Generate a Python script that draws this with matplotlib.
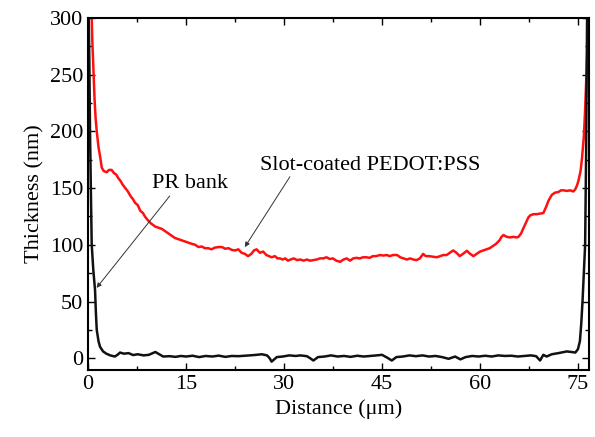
import matplotlib
matplotlib.use("Agg")
import matplotlib.pyplot as plt
from matplotlib.ticker import MultipleLocator

plt.rcParams['font.family'] = ['Liberation Serif', 'DejaVu Serif']

# PR bank profile (black)
bank_x = [0.1, 0.2, 0.3, 0.45, 0.56, 0.8, 1.07, 1.2, 1.33, 1.6, 1.84, 2.3, 2.8,
          3.4, 4.1, 4.5, 4.9, 5.5, 6.2, 6.9, 7.6, 8.5, 9.3, 10.3, 10.9, 11.5,
          12.5, 13.4, 14.2, 15.0, 16.0, 17.0, 18.0, 19.0, 20.0, 21.0, 22.0,
          23.0, 24.0, 25.0, 25.8, 26.6, 27.4, 27.8, 28.1, 28.5, 28.9, 29.8,
          30.8, 31.8, 32.5, 33.5, 34.0, 34.5, 35.2, 36.2, 37.2, 38.2, 39.2,
          40.2, 41.2, 42.2, 43.2, 44.2, 45.0, 45.8, 46.5, 47.2, 48.2, 49.2,
          50.2, 51.2, 52.2, 53.2, 54.2, 55.2, 56.2, 57.0, 57.8, 58.8, 59.8,
          60.8, 61.8, 62.8, 63.8, 64.8, 65.8, 66.8, 67.8, 68.6, 69.2, 69.7,
          70.2, 71.0, 72.0, 73.3, 74.0, 74.6, 75.0, 75.3, 75.5, 75.7, 75.9,
          76.1, 76.25, 76.4]
bank_y = [300, 260, 200, 140, 100, 78, 60, 40, 25, 15, 10, 6, 4,
          2.5, 1.5, 3, 5, 4, 4.5, 2.8, 3.5, 2.5, 3, 5.5, 3.5, 1.5,
          1.8, 1.2, 2, 1.5, 2.2, 1, 2, 1.5, 2.3, 1.2, 2,
          1.8, 2.2, 2.6, 3, 3.5, 2.5, 0, -3, -1, 1, 1.5,
          2.5, 2, 2.5, 1.8, 0, -2, 1, 1.5, 2.5, 1.5, 2,
          1.2, 2.2, 1.5, 2, 2.5, 3, 0.5, -2, 1, 1.5, 2.5,
          1.8, 2.5, 1.5, 2, 1, -0.5, 1.5, -1, 1, 2, 1.5,
          2.2, 1.5, 2.5, 2, 2.2, 1.5, 2, 2.5, 1.8, -2, 3,
          1.5, 3.5, 4.5, 6, 5.5, 5, 8, 15, 30, 50, 75,
          100, 180, 300]

# slot-coated PEDOT:PSS profile (red)
film_x = [0.56, 0.65, 0.8, 1.0, 1.15, 1.33, 1.6, 1.84, 2.1, 2.4, 2.86, 3.2,
          3.6, 4.0, 4.3, 4.6, 5.0, 5.3, 5.7, 6.1, 6.5, 6.9, 7.2, 7.6, 8.0,
          8.4, 8.7, 9.1, 9.6, 10.3, 10.8, 11.3, 11.8, 12.3, 12.8, 13.3, 13.8,
          14.3, 14.8, 15.3, 15.8, 16.4, 16.9, 17.4, 17.9, 18.4, 18.9, 19.4,
          20.0, 20.5, 21.0, 21.5, 22.0, 22.5, 23.0, 23.5, 24.0, 24.5, 25.0,
          25.4, 25.8, 26.3, 26.8, 27.3, 27.7, 28.1, 28.6, 29.0, 29.4, 29.8,
          30.2, 30.6, 31.0, 31.5, 32.0, 32.5, 33.0, 33.5, 34.0, 34.5, 35.0,
          35.5, 36.0, 36.5, 37.0, 37.5, 38.0, 38.6, 39.1, 39.6, 40.1, 40.6,
          41.1, 41.6, 42.1, 42.6, 43.1, 43.6, 44.1, 44.7, 45.2, 45.7, 46.2,
          46.7, 47.3, 47.8, 48.3, 48.8, 49.3, 49.8, 50.3, 50.8, 51.3, 51.7,
          52.2, 52.8, 53.4, 53.9, 54.4, 54.9, 55.4, 55.9, 56.4, 56.9, 57.4,
          58.0, 58.5, 59.0, 59.5, 60.0, 60.5, 61.0, 61.5, 62.0, 62.5, 63.0,
          63.3, 63.6, 64.1, 64.6, 65.1, 65.6, 65.9, 66.3, 66.6, 67.0, 67.4,
          67.7, 68.2, 68.7, 69.2, 69.7, 70.1, 70.5, 71.0, 71.5, 72.0, 72.4,
          72.8, 73.3, 73.8, 74.3, 74.6, 74.9, 75.1, 75.4, 75.6, 75.9, 76.1,
          76.3, 76.45, 76.6]
film_y = [300, 280, 257, 228, 212, 200, 186, 178, 168, 165, 164, 166,
          166, 163, 162, 159, 156, 153, 150, 147, 143, 140, 137, 135, 130,
          128, 125, 122, 119, 116, 115, 114, 112, 110, 108, 106, 105,
          104, 103, 102, 101, 100, 98, 98.5, 97, 97, 96, 97.5,
          98, 98, 96.5, 97, 95.5, 95, 96, 93, 92, 90, 92,
          95, 96, 93, 94, 91, 90, 89, 90, 88, 88, 87,
          88, 86, 87, 88, 86.5, 87, 86, 87, 86, 86.5, 87,
          88, 88, 89, 87.5, 88, 86, 85, 87, 88, 86, 88,
          88.5, 88, 89, 89, 88.5, 90, 90, 91, 90.5, 91, 90,
          91, 91, 89, 88, 87, 88, 87, 86.5, 88, 92, 90,
          90, 89.5, 89, 90, 91, 91, 93, 95, 93, 90, 92,
          94.7, 92, 90, 92, 94, 95, 96, 97, 99, 101, 104,
          107, 108.6, 107, 106.5, 107, 106.5, 107, 110, 114, 119, 124,
          126, 127, 127, 127.5, 128, 133, 139, 144, 146, 146.5, 148,
          148, 147.5, 148, 147, 149, 153, 157, 165, 175, 195, 219,
          250, 275, 298]

fig = plt.figure(figsize=(5.95, 4.37), dpi=100)
ax = fig.add_axes([0.148, 0.153, 0.842, 0.806])

ax.plot(film_x, film_y, color='#ff1010', lw=1.8)
ax.plot(bank_x, bank_y, color='#111111', lw=1.8)

ax.set_xlim(0, 76.7)
ax.set_ylim(-10.5, 300)
ax.xaxis.set_major_locator(MultipleLocator(15))
ax.xaxis.set_minor_locator(MultipleLocator(7.5))
ax.yaxis.set_major_locator(MultipleLocator(50))
ax.yaxis.set_minor_locator(MultipleLocator(25))
ax.tick_params(which='both', direction='in', top=True, right=True,
               width=1.0, labelsize=16)
ax.tick_params(which='major', length=5)
ax.tick_params(which='minor', length=3)
for sp in ax.spines.values():
    sp.set_linewidth(1.5)

ax.set_xlabel('Distance (μm)', fontsize=16)
ax.set_ylabel('Thickness (nm)', fontsize=16)

arrow = dict(arrowstyle='-|>', color='#333333', lw=0.7, mutation_scale=7,
             shrinkA=0, shrinkB=0)
ax.annotate('', xy=(1.3, 62), xytext=(12.5, 143), arrowprops=arrow)
ax.text(9.8, 154, 'PR bank', fontsize=16, va='center', ha='left')
ax.annotate('', xy=(24.0, 98), xytext=(30.9, 160), arrowprops=arrow)
ax.text(26.3, 170, 'Slot-coated PEDOT:PSS', fontsize=16, va='center', ha='left')

fig.savefig('out.png', dpi=100)
